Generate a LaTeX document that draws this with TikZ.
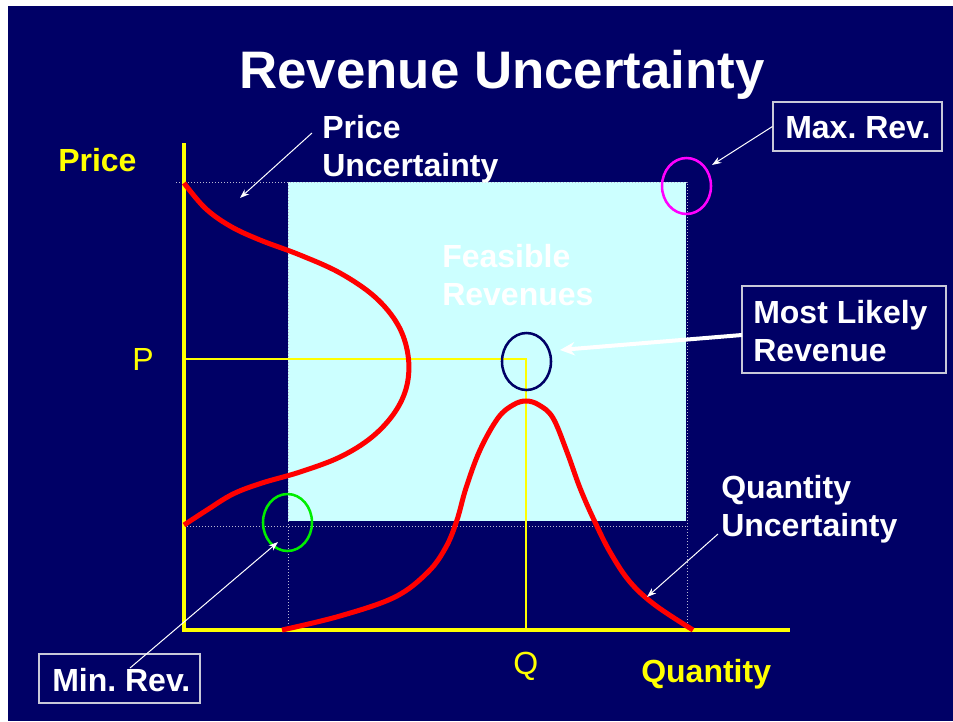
\documentclass[tikz,border=0pt]{standalone}
\usepackage{fontspec}
\setmainfont{Liberation Sans}
\usetikzlibrary{arrows.meta,calc}
\definecolor{bgnavy}{HTML}{000066}
\definecolor{feas}{HTML}{CCFFFF}
\definecolor{ylw}{HTML}{FFFF00}
\definecolor{dotc}{HTML}{B8B8D0}
\definecolor{boxc}{HTML}{C8C8D8}
\definecolor{grn}{HTML}{00EE00}
\definecolor{mag}{HTML}{FF00FF}
\newcommand{\twoln}[2]{\vtop{\baselineskip=28.5pt\hbox{#1}\hbox{#2}}}
\frenchspacing
\begin{document}
\begin{tikzpicture}[x=0.75pt,y=-0.75pt,
  lbl/.style={font=\fontsize{24}{28.5}\selectfont\bfseries, text=white, inner sep=0pt, anchor=base west},
  axlbl/.style={font=\fontsize{24}{28.5}\selectfont\bfseries, text=ylw, inner sep=0pt, anchor=base west},
  pqlbl/.style={font=\fontsize{24}{28.5}\selectfont, text=ylw, inner sep=0pt, anchor=base west},
  frame/.style={draw=boxc, line width=0.8pt, inner sep=0pt},
  dotline/.style={dotc, line width=0.75pt, dash pattern=on 0.75pt off 1.5pt},
  distcurve/.style={red, line width=3.75pt},
  ring/.style={line width=1.9pt},
  thinarr/.style={white, line width=0.75pt, -{Stealth[length=7pt,width=5pt]}},
  thickarr/.style={white, line width=3pt, -{Stealth[length=11pt,width=10pt]}}]
\useasboundingbox (0,0) rectangle (953,721);
\fill[white] (0,0) rectangle (953,721);
\fill[bgnavy] (8,6) rectangle (953,721);
% feasible region
\fill[feas] (288,182) rectangle (686,521);
\draw[dotline] (176,182) -- (687,182) -- (687,630);
\draw[dotline] (184,526) -- (687,526);
\draw[dotline] (288,182) -- (288,630);
% P and Q lines
\draw[ylw, line width=1.9pt] (184,359) -- (526,359) -- (526,630);
% axes
\draw[ylw, line width=3pt] (184,143) -- (184,630) -- (790,630);
% price distribution
\draw[distcurve] plot[smooth, tension=0.6] coordinates {(184,183) (205,208) (230,226) (260,240) (300,255) (340,273) (375,297) (398,325) (408,355) (407,385) (395,412) (372,437) (340,457) (300,472) (262,483) (233,494) (207,510) (184,525)};
% quantity distribution
\draw[distcurve] plot[smooth, tension=0.6] coordinates {(282,630) (340,616) (395,597) (428,572) (446,547) (457,520) (466,488) (480,450) (498,418) (513,405) (526,401) (539,405) (553,418) (567,452) (580,488) (594,520) (610,552) (630,582) (655,605) (693,630)};
% rings
\draw[ring, bgnavy] (526.5,361.5) ellipse [x radius=24.5, y radius=28.5];
\draw[ring, mag] (686.5,186) ellipse [x radius=24.5, y radius=28];
\draw[ring, grn] (287.5,522.5) ellipse [x radius=24.5, y radius=28.5];
% title
\node[font=\fontsize{39.6}{44}\selectfont\bfseries, text=white, inner sep=0pt, anchor=base] (title) at (502,88) {Revenue Uncertainty};
% axis labels
\node[axlbl] (price) at (58,171) {Price};
\node[axlbl] (qty) at (641,682) {Quantity};
\node[pqlbl] (p) at (132,370) {P};
\node[pqlbl] (q) at (513,674) {Q};
% labels
\node[lbl] (pu) at (322,138) {\twoln{Price}{Uncertainty}};
\node[lbl] (fr) at (442,267) {\twoln{Feasible}{Revenues}};
\node[lbl] (qu) at (721,498) {\twoln{Quantity}{Uncertainty}};
% framed boxes
\node[frame, minimum width=126.75pt, minimum height=36.75pt] (maxbox) at (857.5,126.5) {};
\node[lbl] (maxt) at (785,138) {Max. Rev.};
\node[frame, minimum width=153pt, minimum height=65.25pt] (mlbox) at (844,329.5) {};
\node[lbl] (mlt) at (753,323) {\twoln{Most Likely}{Revenue}};
\node[frame, minimum width=120.75pt, minimum height=36.75pt] (minbox) at (119.5,678.5) {};
\node[lbl] (mint) at (52,691) {Min. Rev.};
% arrow ends
\coordinate (puS) at (312,133);
\coordinate (puE) at (240,198);
\coordinate (maxE) at (712,165);
\coordinate (mlS) at (742,335);
\coordinate (mlE) at (560,350);
\coordinate (minS) at (130,668);
\coordinate (minE) at (278,542);
\coordinate (quS) at (718,534);
\coordinate (quE) at (647,597);
\draw[thinarr] (puS) -- (puE);
\draw[thinarr] (maxbox.west) -- (maxE);
\draw[thickarr] (mlS) -- (mlE);
\draw[thinarr] (minS) -- (minE);
\draw[thinarr] (quS) -- (quE);
\end{tikzpicture}
\end{document}
